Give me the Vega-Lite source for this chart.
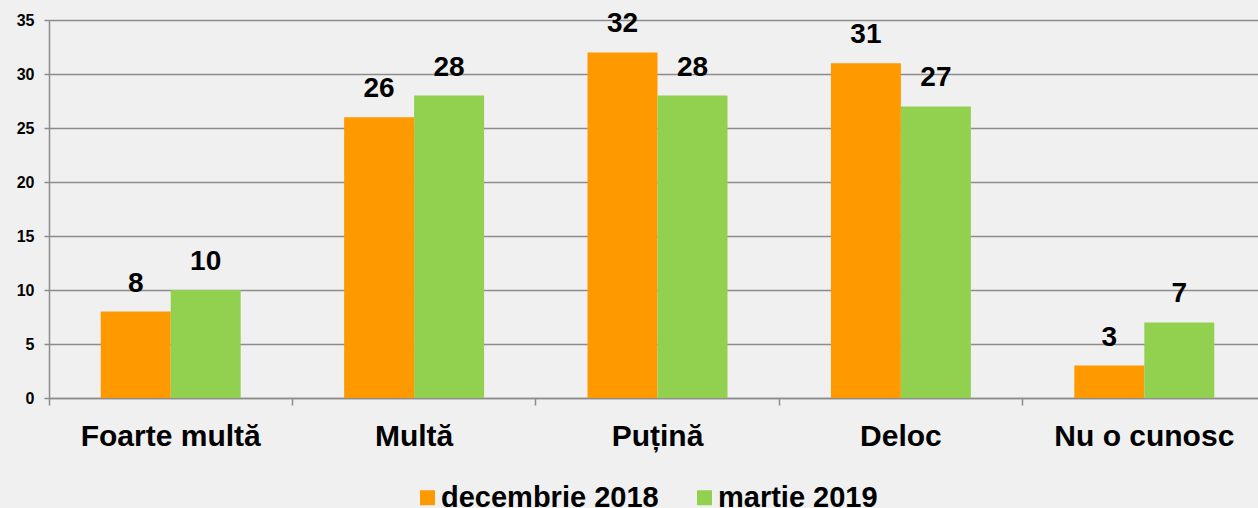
{
  "$schema": "https://vega.github.io/schema/vega-lite/v6.json",
  "width": 1217,
  "height": 378,
  "autosize": {"type": "none"},
  "padding": {"left": 49, "top": 20, "right": 0, "bottom": 110},
  "background": "#f0f0f0",
  "config": {
    "font": "Liberation Sans",
    "view": {"stroke": null},
    "legend": {"labelFont": "Liberation Sans"}
  },
  "data": {
    "values": [
      {"cat": "Foarte multă", "series": "decembrie 2018", "value": 8},
      {"cat": "Foarte multă", "series": "martie 2019", "value": 10},
      {"cat": "Multă", "series": "decembrie 2018", "value": 26},
      {"cat": "Multă", "series": "martie 2019", "value": 28},
      {"cat": "Puțină", "series": "decembrie 2018", "value": 32},
      {"cat": "Puțină", "series": "martie 2019", "value": 28},
      {"cat": "Deloc", "series": "decembrie 2018", "value": 31},
      {"cat": "Deloc", "series": "martie 2019", "value": 27},
      {"cat": "Nu o cunosc", "series": "decembrie 2018", "value": 3},
      {"cat": "Nu o cunosc", "series": "martie 2019", "value": 7}
    ]
  },
  "encoding": {
    "x": {
      "field": "cat",
      "type": "nominal",
      "sort": null,
      "scale": {"paddingInner": 0.425, "paddingOuter": 0.2125},
      "axis": {
        "title": null,
        "labelAngle": 0,
        "labelFontSize": 30,
        "labelFontWeight": "bold",
        "labelColor": "#000000",
        "labelPadding": 16,
        "labelLimit": 0,
        "bandPosition": -0.3695,
        "tickSize": 7,
        "tickColor": "#8c8c8c",
        "tickWidth": 1.5,
        "domainColor": "#8c8c8c",
        "domainWidth": 1.5,
        "grid": false
      }
    },
    "xOffset": {"field": "series", "type": "nominal", "scale": {"paddingInner": 0, "paddingOuter": 0}},
    "y": {
      "field": "value",
      "type": "quantitative",
      "scale": {"domain": [0, 35], "nice": false},
      "axis": {
        "title": null,
        "values": [0, 5, 10, 15, 20, 25, 30, 35],
        "labelFontSize": 16,
        "labelFontWeight": "bold",
        "labelColor": "#000000",
        "labelPadding": 10,
        "tickSize": 5,
        "tickColor": "#8c8c8c",
        "tickWidth": 1.5,
        "domainColor": "#8c8c8c",
        "domainWidth": 1.5,
        "gridColor": "#8c8c8c",
        "gridWidth": 1.5
      }
    }
  },
  "layer": [
    {
      "mark": {"type": "bar", "strokeWidth": 0},
      "encoding": {
        "color": {
          "field": "series",
          "type": "nominal",
          "scale": {"domain": ["decembrie 2018", "martie 2019"], "range": ["#FF9900", "#92D050"]},
          "legend": {
            "title": null,
            "orient": "none",
            "direction": "horizontal",
            "legendX": 364,
            "legendY": 463,
            "symbolType": "square",
            "symbolSize": 225,
            "symbolStrokeWidth": 0,
            "labelFontSize": 29,
            "labelFontWeight": "bold",
            "labelColor": "#000000",
            "labelOffset": -1,
            "columnPadding": 31,
            "labelLimit": 400
          }
        }
      }
    },
    {
      "mark": {"type": "text", "dy": -20, "baseline": "alphabetic", "align": "center", "fontSize": 28, "fontWeight": "bold", "color": "#000000"},
      "encoding": {"text": {"field": "value", "type": "quantitative"}}
    }
  ]
}
